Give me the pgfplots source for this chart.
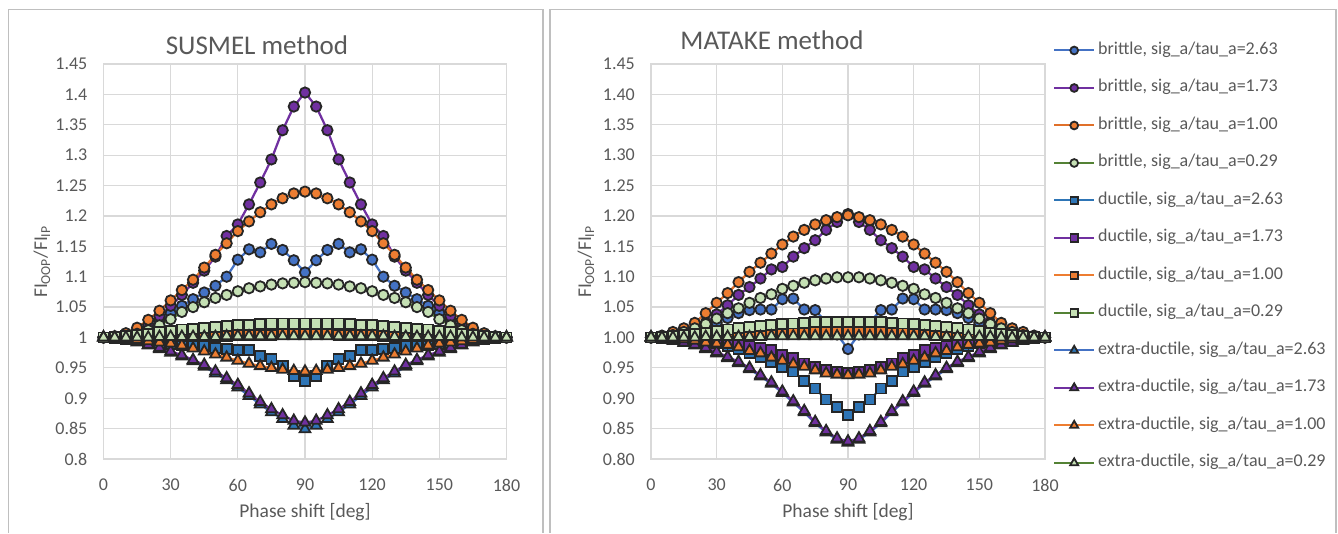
\documentclass[border=0pt]{standalone}
\usepackage{pgfplots}
\pgfplotsset{compat=1.18}
\usepackage{pgfplotstable}
\usepackage{fontspec}
\setmainfont{Carlito}

\definecolor{txt}{HTML}{595959}
\definecolor{gridc}{HTML}{D9D9D9}
\definecolor{framec}{HTML}{BFBFBF}
\definecolor{mk}{HTML}{262626}
\definecolor{cblue}{HTML}{4472C4}
\definecolor{cblueb}{HTML}{2E75B6}
\definecolor{cpurple}{HTML}{7030A0}
\definecolor{corange}{HTML}{ED7D31}
\definecolor{corangel}{HTML}{E0702A}
\definecolor{cgreen}{HTML}{548235}
\definecolor{clgreen}{HTML}{C5E0B4}

% columns: b = brittle, d = ductile, e = extra-ductile; number = sig_a/tau_a
\pgfplotstableread{
x   b263  b173  b100  b029  d263  d173  d100  d029  e263  e173  e100  e029
0   1.000 1.000 1.000 1.000 1.000 1.000 1.000 1.000 1.000 1.000 1.000 1.000
5   1.001 1.001 1.002 1.001 0.999 1.000 1.000 1.001 0.999 0.999 0.999 1.000
10  1.004 1.004 1.007 1.002 0.997 1.001 1.000 1.002 0.996 0.997 0.998 1.000
15  1.010 1.011 1.016 1.006 0.995 1.001 1.001 1.004 0.992 0.993 0.996 1.000
20  1.018 1.021 1.029 1.012 0.993 1.002 1.001 1.006 0.987 0.988 0.994 1.000
25  1.028 1.035 1.044 1.020 0.991 1.002 1.001 1.009 0.981 0.983 0.992 1.001
30  1.040 1.052 1.061 1.030 0.989 1.003 1.002 1.011 0.975 0.977 0.990 1.001
35  1.052 1.070 1.078 1.042 0.987 1.004 1.002 1.013 0.969 0.971 0.987 1.001
40  1.063 1.090 1.095 1.050 0.986 1.005 1.002 1.014 0.961 0.963 0.982 1.001
45  1.074 1.110 1.115 1.058 0.985 1.005 1.003 1.016 0.952 0.955 0.977 1.001
50  1.085 1.133 1.136 1.065 0.983 1.006 1.003 1.017 0.941 0.944 0.972 1.001
55  1.100 1.167 1.155 1.070 0.981 1.007 1.003 1.019 0.930 0.933 0.967 1.002
60  1.128 1.186 1.175 1.076 0.980 1.007 1.004 1.020 0.918 0.922 0.962 1.002
65  1.145 1.219 1.191 1.081 0.979 1.008 1.004 1.021 0.904 0.908 0.957 1.002
70  1.140 1.255 1.206 1.084 0.970 1.008 1.004 1.022 0.890 0.894 0.953 1.002
75  1.154 1.293 1.219 1.087 0.965 1.009 1.004 1.023 0.877 0.882 0.950 1.002
80  1.144 1.341 1.229 1.089 0.953 1.009 1.005 1.023 0.866 0.872 0.947 1.002
85  1.127 1.380 1.237 1.090 0.937 1.010 1.005 1.023 0.855 0.863 0.945 1.002
90  1.107 1.403 1.240 1.091 0.929 1.010 1.005 1.023 0.849 0.860 0.944 1.002
95  1.127 1.380 1.237 1.090 0.937 1.010 1.005 1.023 0.855 0.863 0.945 1.002
100 1.144 1.341 1.229 1.089 0.953 1.009 1.005 1.023 0.866 0.872 0.947 1.002
105 1.154 1.293 1.219 1.087 0.965 1.009 1.004 1.023 0.877 0.882 0.950 1.002
110 1.140 1.255 1.206 1.084 0.970 1.008 1.004 1.022 0.890 0.894 0.953 1.002
115 1.145 1.219 1.191 1.081 0.979 1.008 1.004 1.021 0.904 0.908 0.957 1.002
120 1.128 1.186 1.175 1.076 0.980 1.007 1.004 1.020 0.918 0.922 0.962 1.002
125 1.100 1.167 1.155 1.070 0.981 1.007 1.003 1.019 0.930 0.933 0.967 1.002
130 1.085 1.133 1.136 1.065 0.983 1.006 1.003 1.017 0.941 0.944 0.972 1.001
135 1.074 1.110 1.115 1.058 0.985 1.005 1.003 1.016 0.952 0.955 0.977 1.001
140 1.063 1.090 1.095 1.050 0.986 1.005 1.002 1.014 0.961 0.963 0.982 1.001
145 1.052 1.070 1.078 1.042 0.987 1.004 1.002 1.013 0.969 0.971 0.987 1.001
150 1.040 1.052 1.061 1.030 0.989 1.003 1.002 1.011 0.975 0.977 0.990 1.001
155 1.028 1.035 1.044 1.020 0.991 1.002 1.001 1.009 0.981 0.983 0.992 1.001
160 1.018 1.021 1.029 1.012 0.993 1.002 1.001 1.006 0.987 0.988 0.994 1.000
165 1.010 1.011 1.016 1.006 0.995 1.001 1.001 1.004 0.992 0.993 0.996 1.000
170 1.004 1.004 1.007 1.002 0.997 1.001 1.000 1.002 0.996 0.997 0.998 1.000
175 1.001 1.001 1.002 1.001 0.999 1.000 1.000 1.001 0.999 0.999 0.999 1.000
180 1.000 1.000 1.000 1.000 1.000 1.000 1.000 1.000 1.000 1.000 1.000 1.000
}\susmel

\pgfplotstableread{
x   b263  b173  b100  b029  d263  d173  d100  d029  e263  e173  e100  e029
0   1.000 1.000 1.000 1.000 1.000 1.000 1.000 1.000 1.000 1.000 1.000 1.000
5   1.000 1.001 1.003 1.001 1.000 0.999 1.000 1.001 0.999 0.999 0.999 1.000
10  1.002 1.002 1.009 1.004 0.999 0.998 1.001 1.002 0.995 0.996 0.998 1.000
15  1.006 1.006 1.015 1.009 0.998 0.997 1.001 1.004 0.991 0.992 0.997 1.000
20  1.011 1.013 1.024 1.015 0.996 0.995 1.002 1.006 0.987 0.988 0.995 1.000
25  1.017 1.024 1.040 1.022 0.993 0.994 1.003 1.008 0.981 0.983 0.992 1.001
30  1.024 1.038 1.057 1.031 0.990 0.993 1.004 1.011 0.974 0.976 0.990 1.001
35  1.032 1.053 1.073 1.040 0.986 0.992 1.004 1.013 0.966 0.968 0.988 1.001
40  1.040 1.070 1.091 1.048 0.981 0.990 1.005 1.015 0.958 0.960 0.984 1.001
45  1.045 1.083 1.108 1.057 0.975 0.986 1.006 1.017 0.948 0.950 0.978 1.001
50  1.046 1.097 1.123 1.065 0.968 0.983 1.007 1.019 0.936 0.938 0.974 1.001
55  1.046 1.112 1.138 1.071 0.960 0.979 1.007 1.021 0.924 0.926 0.967 1.002
60  1.063 1.116 1.153 1.080 0.952 0.971 1.008 1.022 0.909 0.911 0.962 1.002
65  1.064 1.133 1.166 1.085 0.944 0.966 1.008 1.023 0.893 0.895 0.956 1.002
70  1.046 1.147 1.177 1.090 0.929 0.957 1.009 1.024 0.877 0.879 0.952 1.002
75  1.045 1.160 1.186 1.094 0.916 0.952 1.009 1.025 0.859 0.861 0.946 1.002
80  1.025 1.177 1.193 1.097 0.898 0.946 1.010 1.025 0.844 0.846 0.941 1.002
85  1.005 1.190 1.198 1.099 0.885 0.943 1.010 1.025 0.832 0.834 0.939 1.002
90  0.981 1.203 1.201 1.099 0.873 0.942 1.010 1.025 0.827 0.829 0.938 1.002
95  1.005 1.190 1.198 1.099 0.885 0.943 1.010 1.025 0.832 0.834 0.939 1.002
100 1.025 1.177 1.193 1.097 0.898 0.946 1.010 1.025 0.844 0.846 0.941 1.002
105 1.045 1.160 1.186 1.094 0.916 0.952 1.009 1.025 0.859 0.861 0.946 1.002
110 1.046 1.147 1.177 1.090 0.929 0.957 1.009 1.024 0.877 0.879 0.952 1.002
115 1.064 1.133 1.166 1.085 0.944 0.966 1.008 1.023 0.893 0.895 0.956 1.002
120 1.063 1.116 1.153 1.080 0.952 0.971 1.008 1.022 0.909 0.911 0.962 1.002
125 1.046 1.112 1.138 1.071 0.960 0.979 1.007 1.021 0.924 0.926 0.967 1.002
130 1.046 1.097 1.123 1.065 0.968 0.983 1.007 1.019 0.936 0.938 0.974 1.001
135 1.045 1.083 1.108 1.057 0.975 0.986 1.006 1.017 0.948 0.950 0.978 1.001
140 1.040 1.070 1.091 1.048 0.981 0.990 1.005 1.015 0.958 0.960 0.984 1.001
145 1.032 1.053 1.073 1.040 0.986 0.992 1.004 1.013 0.966 0.968 0.988 1.001
150 1.024 1.038 1.057 1.031 0.990 0.993 1.004 1.011 0.974 0.976 0.990 1.001
155 1.017 1.024 1.040 1.022 0.993 0.994 1.003 1.008 0.981 0.983 0.992 1.001
160 1.011 1.013 1.024 1.015 0.996 0.995 1.002 1.006 0.987 0.988 0.995 1.000
165 1.006 1.006 1.015 1.009 0.998 0.997 1.001 1.004 0.991 0.992 0.997 1.000
170 1.002 1.002 1.009 1.004 0.999 0.998 1.001 1.002 0.995 0.996 0.998 1.000
175 1.000 1.001 1.003 1.001 1.000 0.999 1.000 1.001 0.999 0.999 0.999 1.000
180 1.000 1.000 1.000 1.000 1.000 1.000 1.000 1.000 1.000 1.000 1.000 1.000
}\matake

\newcommand\tickfont{\fontsize{18}{21}\selectfont}
\newcommand\labfont{\fontsize{19.5}{22}\selectfont}
\newcommand\titfont{\fontsize{27}{30}\selectfont}

\pgfplotsset{
  panel/.style={
    scale only axis, anchor=south west,
    xmin=0, xmax=180, ymin=0.8, ymax=1.45,
    xtick={0,30,...,180},
    ytick={0.80,0.85,0.90,0.95,1.00,1.05,1.10,1.15,1.20,1.25,1.30,1.35,1.40,1.45},
    major tick length=0pt,
    grid=major, grid style={gridc, line width=1.25pt},
    axis line style={gridc, line width=1.25pt},
    clip=false,
    tick label style={font=\tickfont, text=txt, inner sep=0pt},
    /pgf/number format/assume math mode=true,
    yticklabel style={xshift=-16pt},
    xticklabel style={yshift=-20pt},
  },
  ser/.style n args={3}{line width=2.25pt, color=#1, mark=#2,
    mark options={fill=#3, draw=mk, line width=1.8pt, solid}},
  sb263/.style={ser={cblue}{*}{cblue}, mark size=5.2pt},
  sb173/.style={ser={cpurple}{*}{cpurple}, mark size=5.2pt},
  sb100/.style={ser={corangel}{*}{corange}, mark size=5.2pt},
  sb029/.style={ser={cgreen}{*}{clgreen}, mark size=5.2pt},
  sd263/.style={ser={cblueb}{square*}{cblueb}, mark size=5.0pt},
  sd173/.style={ser={cpurple}{square*}{cpurple}, mark size=5.0pt},
  sd100/.style={ser={corange}{square*}{corange}, mark size=5.0pt},
  sd029/.style={ser={cgreen}{square*}{clgreen}, mark size=5.0pt},
  se263/.style={ser={cblue}{triangle*}{cblueb}, mark size=6.2pt},
  se173/.style={ser={cpurple}{triangle*}{cpurple}, mark size=6.2pt},
  se100/.style={ser={corange}{triangle*}{corange}, mark size=6.2pt},
  se029/.style={ser={cgreen}{triangle*}{clgreen}, mark size=6.2pt},
}

\begin{document}
\begin{tikzpicture}[x=1pt,y=1pt]
\useasboundingbox (0,0) rectangle (1338,533);
\draw[framec, line width=1.5pt] (8.5,0) -- (8.5,523.5) -- (543,523.5) -- (543,0);
\draw[framec, line width=1.5pt] (550,0) -- (550,523.5) -- (1336,523.5) -- (1336,0);

\begin{axis}[panel, at={(103.5pt,74pt)}, width=403pt, height=395pt,
  yticklabels={0.8,0.85,0.9,0.95,1,1.05,1.1,1.15,1.2,1.25,1.3,1.35,1.4,1.45}]
\addplot[sb263] table[x=x, y=b263] {\susmel};
\addplot[sb173] table[x=x, y=b173] {\susmel};
\addplot[sb100] table[x=x, y=b100] {\susmel};
\addplot[sb029] table[x=x, y=b029] {\susmel};
\addplot[sd263] table[x=x, y=d263] {\susmel};
\addplot[sd173] table[x=x, y=d173] {\susmel};
\addplot[sd100] table[x=x, y=d100] {\susmel};
\addplot[sd029] table[x=x, y=d029] {\susmel};
\addplot[se263] table[x=x, y=e263] {\susmel};
\addplot[se173] table[x=x, y=e173] {\susmel};
\addplot[se100] table[x=x, y=e100] {\susmel};
\addplot[se029] table[x=x, y=e029] {\susmel};
\end{axis}

\begin{axis}[panel, at={(651pt,74pt)}, width=394pt, height=395pt,
  yticklabels={0.80,0.85,0.90,0.95,1.00,1.05,1.10,1.15,1.20,1.25,1.30,1.35,1.40,1.45},
  legend cell align=left,
  legend image code/.code={\draw[mark repeat=2,mark phase=2] plot coordinates {(0pt,0pt) (20pt,0pt) (40pt,0pt)};},
  legend image post style={line width=2pt, every mark/.append style={scale=0.75}},
  legend style={draw=none, fill=none, at={(1.0203,1.055)}, anchor=north west,
    inner sep=0pt, row sep=21.5pt, column sep=3pt,
    nodes={inner sep=0pt, text=txt, font=\tickfont, text height=12pt, text depth=4pt}},
]
\addplot[sb263] table[x=x, y=b263] {\matake};
\addlegendentry{brittle, sig\_a/tau\_a=2.63}
\addplot[sb173] table[x=x, y=b173] {\matake};
\addlegendentry{brittle, sig\_a/tau\_a=1.73}
\addplot[sb100] table[x=x, y=b100] {\matake};
\addlegendentry{brittle, sig\_a/tau\_a=1.00}
\addplot[sb029] table[x=x, y=b029] {\matake};
\addlegendentry{brittle, sig\_a/tau\_a=0.29}
\addplot[sd263] table[x=x, y=d263] {\matake};
\addlegendentry{ductile, sig\_a/tau\_a=2.63}
\addplot[sd173] table[x=x, y=d173] {\matake};
\addlegendentry{ductile, sig\_a/tau\_a=1.73}
\addplot[sd100] table[x=x, y=d100] {\matake};
\addlegendentry{ductile, sig\_a/tau\_a=1.00}
\addplot[sd029] table[x=x, y=d029] {\matake};
\addlegendentry{ductile, sig\_a/tau\_a=0.29}
\addplot[se263] table[x=x, y=e263] {\matake};
\addlegendentry{extra-ductile, sig\_a/tau\_a=2.63}
\addplot[se173] table[x=x, y=e173] {\matake};
\addlegendentry{extra-ductile, sig\_a/tau\_a=1.73}
\addplot[se100] table[x=x, y=e100] {\matake};
\addlegendentry{extra-ductile, sig\_a/tau\_a=1.00}
\addplot[se029] table[x=x, y=e029] {\matake};
\addlegendentry{extra-ductile, sig\_a/tau\_a=0.29}
\end{axis}

% titles and axis labels
\node[anchor=base, text=txt, font=\titfont] at (257,478.6) {SUSMEL method};
\node[anchor=base, text=txt, font=\titfont] at (772,483.7) {MATAKE method};
\node[anchor=base, text=txt, font=\labfont] at (305,16) {Phase shift [deg]};
\node[anchor=base, text=txt, font=\labfont] at (848,16) {Phase shift [deg]};
\node[anchor=base, rotate=90, text=txt, font=\labfont] at (47,271) {FI\textsubscript{OOP}/FI\textsubscript{IP}};
\node[anchor=base, rotate=90, text=txt, font=\labfont] at (591,271) {FI\textsubscript{OOP}/FI\textsubscript{IP}};
\end{tikzpicture}
\end{document}
